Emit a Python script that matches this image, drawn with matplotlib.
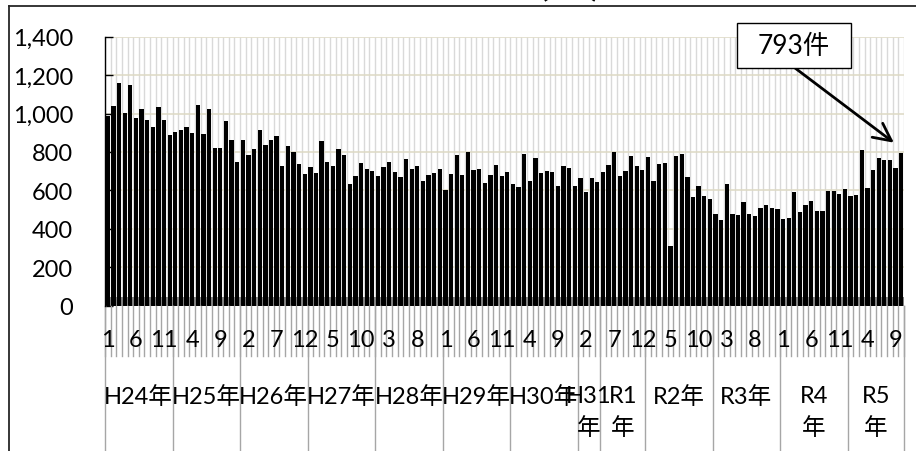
import matplotlib
matplotlib.use("Agg")
import matplotlib.pyplot as plt
from matplotlib.lines import Line2D
from matplotlib.patches import Rectangle

plt.rcParams['font.family'] = ['Lato', 'Noto Sans CJK JP']

# monthly counts, H24/1 .. R5/10
counts = [
    985, 1037, 1159, 1003, 1147, 975, 1025, 965, 931, 1034, 965, 890,   # H24
    905, 914, 930, 898, 1044, 895, 1023, 819, 819, 959, 860, 748,       # H25
    864, 783, 813, 913, 834, 864, 882, 728, 832, 800, 736, 687,         # H26
    719, 692, 858, 746, 724, 814, 786, 632, 672, 742, 710, 699,         # H27
    673, 720, 746, 693, 670, 761, 711, 725, 648, 682, 692, 709,         # H28
    602, 687, 786, 679, 800, 705, 713, 639, 679, 732, 676, 694,         # H29
    633, 616, 789, 647, 767, 689, 701, 693, 620, 729, 716, 621,         # H30
    664, 590, 663, 643,                                                 # H31
    693, 733, 800, 676, 700, 779, 727, 704,                             # R1
    772, 650, 739, 741, 312, 779, 788, 668, 565, 623, 569, 557,         # R2
    474, 445, 633, 477, 471, 540, 477, 465, 506, 524, 510, 503,         # R3
    451, 457, 592, 485, 523, 546, 494, 492, 597, 595, 583, 605,         # R4
    572, 577, 808, 610, 706, 769, 758, 758, 718, 793,                   # R5
]

month_labels = ['1', '6', '11', '4', '9', '2', '7', '12', '5', '10', '3', '8',
                '1', '6', '11', '4', '9', '2', '7', '12', '5', '10', '3', '8',
                '1', '6', '11', '4', '9']
year_labels = ['H24年', 'H25年', 'H26年', 'H27年', 'H28年', 'H29年', 'H30年',
               'H31\n年', 'R1\n年', 'R2年', 'R3年', 'R4\n年', 'R5\n年']
year_months = [12, 12, 12, 12, 12, 12, 12, 4, 8, 12, 12, 12, 10]

W, H = 916, 452
fig = plt.figure(figsize=(W / 100, H / 100), dpi=100)
ax_l, ax_r, ax_t, ax_b = 105, 904, 37.7, 306.5
ax = fig.add_axes([ax_l / W, 1 - ax_b / H, (ax_r - ax_l) / W, (ax_b - ax_t) / H])

def py(ypix):
    # pixel row -> axes fraction
    return (ax_b - ypix) / (ax_b - ax_t)

n = len(counts)
xs = list(range(n))

ax.set_xlim(-0.5, n - 0.5)
ax.set_ylim(0, 1400)

# grid: light gray per month, tan horizontals
ax.vlines([i - 0.5 for i in range(n + 1)], 0, 1400, color='#D9D9D9', lw=1.0, zorder=0)
ax.hlines(range(200, 1401, 200), -0.5, n - 0.5, color='#DDD9C3', lw=1.1, zorder=0.5)
ax.axhspan(0, 43, color='#808080', lw=0, zorder=1)

ax.bar(xs, counts, width=0.76, color='black', zorder=2)

for s in ['top', 'right', 'bottom']:
    ax.spines[s].set_visible(False)
ax.spines['left'].set_color('black')
ax.spines['left'].set_linewidth(1.0)
ax.spines['left'].set_zorder(3)

ax.set_yticks(range(0, 1401, 200))
ax.set_yticklabels([f'{v:,}' for v in range(0, 1401, 200)])
ax.tick_params(axis='y', direction='in', length=6, width=1, pad=23, labelsize=17)
ax.set_xticks([])

# category axis: month labels every 5 months, year groups below
xt = ax.get_xaxis_transform()
for i in range(n + 1):
    ax.plot([i - 0.5, i - 0.5], [0, py(357)], transform=xt, color='#A6A6A6',
            lw=1.0, clip_on=False)
for k, lab in enumerate(month_labels):
    ax.text(k * 5, py(341), lab, transform=xt, ha='center', va='center',
            fontsize=17)

start = 0
bounds = [0]
for lab, m in zip(year_labels, year_months):
    ax.text(start + m / 2 - 0.5, py(386), lab, transform=xt, ha='center', va='top',
            fontsize=17, linespacing=1.55)
    start += m
    bounds.append(start)
for b in bounds:
    ax.plot([b - 0.5, b - 0.5], [0, py(H + 2)], transform=xt, color='#A6A6A6',
            lw=1.0, clip_on=False)

# callout for the latest month
fig.add_artist(Rectangle((737 / W, 1 - 69 / H), 114 / W, 45 / H, transform=fig.transFigure,
                         fc='white', ec='black', lw=1, zorder=5))
fig.text(794 / W, 1 - 47 / H, f'{counts[-1]}件', ha='center', va='center',
         fontsize=19, zorder=6)
ax.annotate('', xy=(n - 1 - 1.3, counts[-1] + 55), xytext=(795 / W, 1 - 69 / H),
            textcoords='figure fraction', annotation_clip=False,
            arrowprops=dict(arrowstyle='->,head_length=0.7,head_width=0.35', lw=2,
                            color='black', shrinkA=0, shrinkB=0, mutation_scale=18),
            zorder=5)

# chart frame and the clipped heading above it
fig.add_artist(Line2D([9.3 / W, 1.0], [1 - 7.3 / H, 1 - 7.3 / H], color='#262626', lw=1.3))
fig.add_artist(Line2D([9.3 / W, 9.3 / W], [0, 1 - 7.3 / H], color='#262626', lw=1.3))
fig.text(570 / W, 1 + 5 / H, '(件)', ha='center', va='baseline', fontsize=30,
         fontweight='bold')

fig.savefig('out.png', dpi=100)
